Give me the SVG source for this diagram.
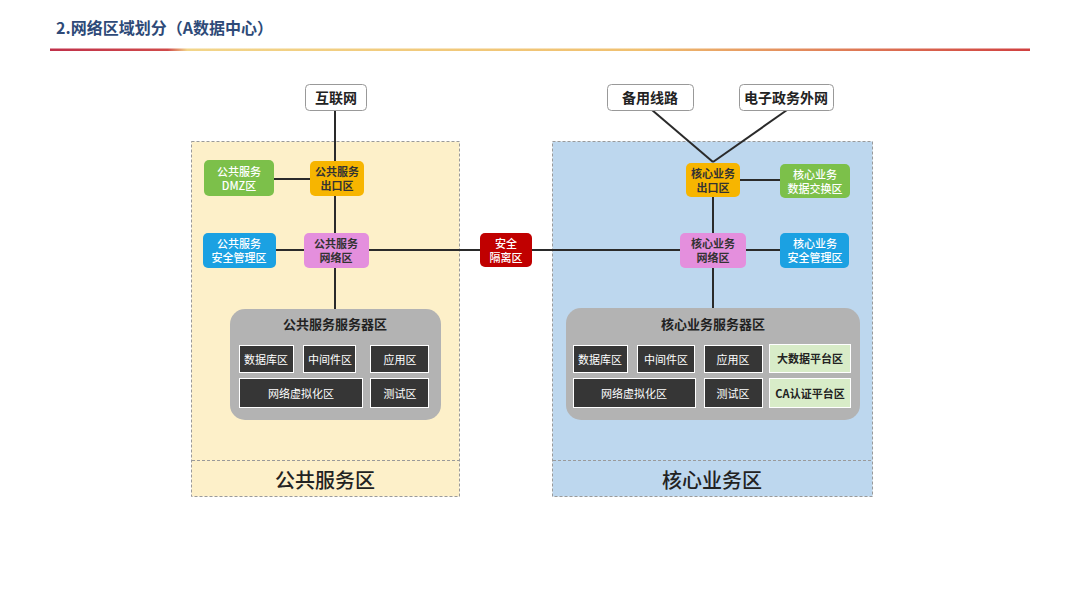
<svg xmlns="http://www.w3.org/2000/svg" width="1080" height="608" viewBox="0 0 1080 608">
<defs>
<linearGradient id="hl" x1="0" y1="0" x2="1" y2="0">
<stop offset="0" stop-color="#c0304a"/>
<stop offset="0.12" stop-color="#d04a4a"/>
<stop offset="0.14" stop-color="#f2d58a"/>
<stop offset="0.6" stop-color="#f0c070"/>
<stop offset="1" stop-color="#d04040"/>
</linearGradient>
<style>
text{font-family:"Noto Sans CJK SC","Noto Sans",sans-serif;text-anchor:middle;dominant-baseline:central}
.zone{stroke:#9a9a9a;stroke-width:1;stroke-dasharray:3 2}
.sep{stroke:#9a9a9a;stroke-width:1;stroke-dasharray:3 2;fill:none}
.top{fill:#fff;stroke:#999;stroke-width:1}
.tt{font-size:14px;font-weight:bold;fill:#222}
.n{font-size:11px;font-weight:bold}
.w{fill:#fff;font-weight:500}
.d{fill:#333}
.g{fill:#7cc04a}
.o{fill:#f7b500}
.b{fill:#1ba1e2}
.p{fill:#e48fdd}
.r{fill:#c00000}
.srv{fill:#b3b3b3}
.box{fill:#363636;stroke:#fff;stroke-width:1}
.lbox{fill:#d8ecc8;stroke:#fff;stroke-width:1}
.bt{font-size:11px;fill:#fff}
.lt{font-size:11px;font-weight:bold;fill:#222}
.st{font-size:13px;font-weight:bold;fill:#222}
.zl{font-size:20px;font-weight:500;fill:#222}
#conn line{stroke:#2a2a2a;stroke-width:2}
</style>
</defs>
<rect width="1080" height="608" fill="#fff"/>
<text x="56" y="27" style="text-anchor:start;font-size:16px;font-weight:bold;fill:#2e4a78">2.网络区域划分（A数据中心）</text>
<rect x="50" y="48.5" width="980" height="2.5" fill="url(#hl)"/>

<g id="zone-public">
<rect class="zone" x="191.5" y="141.5" width="268" height="355" fill="#fdf0c9"/>
<line class="sep" x1="192" y1="460.5" x2="459" y2="460.5"/>
<text class="zl" x="325" y="479">公共服务区</text>
</g>
<g id="zone-core">
<rect class="zone" x="552.5" y="141.5" width="320" height="355" fill="#bdd7ee"/>
<line class="sep" x1="553" y1="460.5" x2="872" y2="460.5"/>
<text class="zl" x="712" y="479">核心业务区</text>
</g>

<g id="conn">
<line x1="335" y1="110" x2="335" y2="310"/>
<line x1="274" y1="179" x2="310" y2="179"/>
<line x1="276" y1="250" x2="304" y2="250"/>
<line x1="369" y1="250" x2="480" y2="250"/>
<line x1="532" y1="250" x2="680" y2="250"/>
<line x1="652" y1="110" x2="713" y2="162"/>
<line x1="787" y1="110" x2="713" y2="162"/>
<line x1="713" y1="196" x2="713" y2="233"/>
<line x1="713" y1="268" x2="713" y2="310"/>
<line x1="740" y1="180" x2="780" y2="180"/>
<line x1="746" y1="250" x2="780" y2="250"/>
</g>

<g id="internet"><rect class="top" x="305.5" y="84.5" width="61" height="26" rx="4"/><text class="tt" x="336" y="97">互联网</text></g>
<g id="backup"><rect class="top" x="607.5" y="84.5" width="86" height="26" rx="4"/><text class="tt" x="650" y="97">备用线路</text></g>
<g id="egov"><rect class="top" x="739.5" y="84.5" width="94" height="26" rx="4"/><text class="tt" x="786" y="97">电子政务外网</text></g>

<g id="pub-dmz"><rect class="g" x="204" y="160" width="70" height="36" rx="5"/><text class="n w" x="239" y="171">公共服务</text><text class="n w" x="239" y="185">DMZ区</text></g>
<g id="pub-exit"><rect class="o" x="310" y="161" width="54" height="35" rx="5"/><text class="n d" x="337" y="171">公共服务</text><text class="n d" x="337" y="185">出口区</text></g>
<g id="pub-sec"><rect class="b" x="203" y="233" width="73" height="35" rx="5"/><text class="n w" x="239" y="243">公共服务</text><text class="n w" x="239" y="257">安全管理区</text></g>
<g id="pub-net"><rect class="p" x="304" y="233" width="65" height="35" rx="5"/><text class="n d" x="336" y="243">公共服务</text><text class="n d" x="336" y="257">网络区</text></g>

<g id="isolation"><rect class="r" x="480" y="233" width="52" height="34" rx="5"/><text class="n w" x="506" y="243">安全</text><text class="n w" x="506" y="257">隔离区</text></g>

<g id="core-exit"><rect class="o" x="686" y="163" width="54" height="34" rx="5"/><text class="n d" x="713" y="173">核心业务</text><text class="n d" x="713" y="187">出口区</text></g>
<g id="core-exch"><rect class="g" x="780" y="164" width="70" height="34" rx="5"/><text class="n w" x="815" y="174">核心业务</text><text class="n w" x="815" y="188">数据交换区</text></g>
<g id="core-net"><rect class="p" x="680" y="233" width="66" height="35" rx="5"/><text class="n d" x="713" y="243">核心业务</text><text class="n d" x="713" y="257">网络区</text></g>
<g id="core-sec"><rect class="b" x="780" y="233" width="69" height="35" rx="5"/><text class="n w" x="815" y="243">核心业务</text><text class="n w" x="815" y="257">安全管理区</text></g>

<g id="pub-server">
<rect class="srv" x="230" y="309" width="211" height="111" rx="15"/>
<text class="st" x="335" y="323">公共服务服务器区</text>
<rect class="box" x="239.5" y="345.5" width="54" height="27"/><text class="bt" x="266" y="359">数据库区</text>
<rect class="box" x="303.5" y="345.5" width="52" height="27"/><text class="bt" x="330" y="359">中间件区</text>
<rect class="box" x="370.5" y="345.5" width="58" height="27"/><text class="bt" x="400" y="359">应用区</text>
<rect class="box" x="239.5" y="378.5" width="123" height="29"/><text class="bt" x="301" y="393">网络虚拟化区</text>
<rect class="box" x="370.5" y="378.5" width="58" height="29"/><text class="bt" x="400" y="393">测试区</text>
</g>

<g id="core-server">
<rect class="srv" x="566" y="308" width="294" height="112" rx="15"/>
<text class="st" x="713" y="323">核心业务服务器区</text>
<rect class="box" x="573.5" y="345.5" width="54" height="27"/><text class="bt" x="600" y="359">数据库区</text>
<rect class="box" x="637.5" y="345.5" width="57" height="27"/><text class="bt" x="666" y="359">中间件区</text>
<rect class="box" x="704.5" y="345.5" width="58" height="27"/><text class="bt" x="733" y="359">应用区</text>
<rect class="lbox" x="769.5" y="344.5" width="81" height="28"/><text class="lt" x="810" y="358">大数据平台区</text>
<rect class="box" x="573.5" y="378.5" width="122" height="29"/><text class="bt" x="634" y="393">网络虚拟化区</text>
<rect class="box" x="704.5" y="378.5" width="58" height="29"/><text class="bt" x="733" y="393">测试区</text>
<rect class="lbox" x="769.5" y="378.5" width="81" height="29"/><text class="lt" x="810" y="393">CA认证平台区</text>
</g>
</svg>
